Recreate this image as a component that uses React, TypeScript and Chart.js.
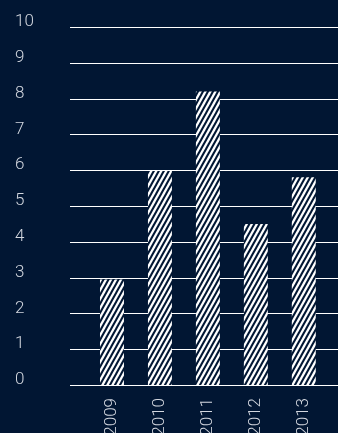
import React, { useEffect, useRef } from "react";
import { Chart, registerables } from "chart.js";

Chart.register(...registerables);

const categories: string[] = ["2009", "2010", "2011", "2012", "2013"];
const values: number[] = [2.95, 5.98, 8.2, 4.5, 5.8];
const yMin = 0;
const yMax = 10;
const yStep = 1;

const BG = "#011633";
const GRID = "#ffffff";
const TEXT = "#d3d7df";
const FONT = "Roboto";

function makeStripePattern(): CanvasPattern | string {
  const W = 5;
  const H = 9;
  const c = document.createElement("canvas");
  c.width = W;
  c.height = H;
  const ctx = c.getContext("2d");
  if (!ctx) return "#ffffff";
  ctx.fillStyle = BG;
  ctx.fillRect(0, 0, W, H);
  ctx.fillStyle = "#ffffff";
  for (let k = -2; k <= 2; k++) {
    const x0 = k * W;
    ctx.beginPath();
    ctx.moveTo(x0, H);
    ctx.lineTo(x0 + W * 0.52, H);
    ctx.lineTo(x0 + W + W * 0.52, 0);
    ctx.lineTo(x0 + W, 0);
    ctx.closePath();
    ctx.fill();
  }
  const p = ctx.createPattern(c, "repeat");
  return p || "#ffffff";
}

const gridPlugin = {
  id: "extendedGrid",
  beforeDatasetsDraw(chart: any) {
    const y = chart.scales.y;
    const ctx = chart.ctx;
    ctx.save();
    ctx.strokeStyle = GRID;
    ctx.lineWidth = 1;
    y.ticks.forEach((_t: any, i: number) => {
      const py = Math.round(y.getPixelForTick(i)) + 0.5;
      ctx.beginPath();
      ctx.moveTo(70, py);
      ctx.lineTo(chart.width, py);
      ctx.stroke();
    });
    ctx.restore();
  },
};

export default function App() {
  const ref = useRef<HTMLCanvasElement | null>(null);

  useEffect(() => {
    if (!ref.current) return;
    const chart = new Chart(ref.current, {
      type: "bar",
      data: {
        labels: categories,
        datasets: [
          {
            data: values,
            backgroundColor: makeStripePattern() as any,
            borderWidth: 0,
            categoryPercentage: 1,
            barPercentage: 0.5,
          },
        ],
      },
      options: {
        animation: false,
        responsive: true,
        maintainAspectRatio: false,
        layout: { padding: { left: 15, right: 8, top: 27, bottom: 0 } },
        plugins: {
          legend: { display: false },
          tooltip: { enabled: false },
        },
        scales: {
          x: {
            grid: { display: false, drawTicks: false },
            border: { display: false },
            ticks: {
              color: TEXT,
              font: { family: FONT, size: 17, weight: 300 as any },
              minRotation: 90,
              maxRotation: 90,
              padding: 13,
              autoSkip: false,
            },
            afterFit(scale: any) {
              scale.height = 48;
            },
          },
          y: {
            min: yMin,
            max: yMax,
            grid: { display: false, drawTicks: false },
            border: { display: false },
            ticks: {
              stepSize: yStep,
              color: TEXT,
              font: { family: FONT, size: 17, weight: 300 as any },
              crossAlign: "far",
              labelOffset: -5,
            },
            afterFit(scale: any) {
              scale.width = 73;
            },
          },
        },
      },
      plugins: [gridPlugin],
    });
    return () => chart.destroy();
  }, []);

  return (
    <div
      style={{
        position: "fixed",
        left: 0,
        top: 0,
        width: 338,
        height: 433,
        background: BG,
      }}
    >
      <canvas ref={ref} />
    </div>
  );
}
